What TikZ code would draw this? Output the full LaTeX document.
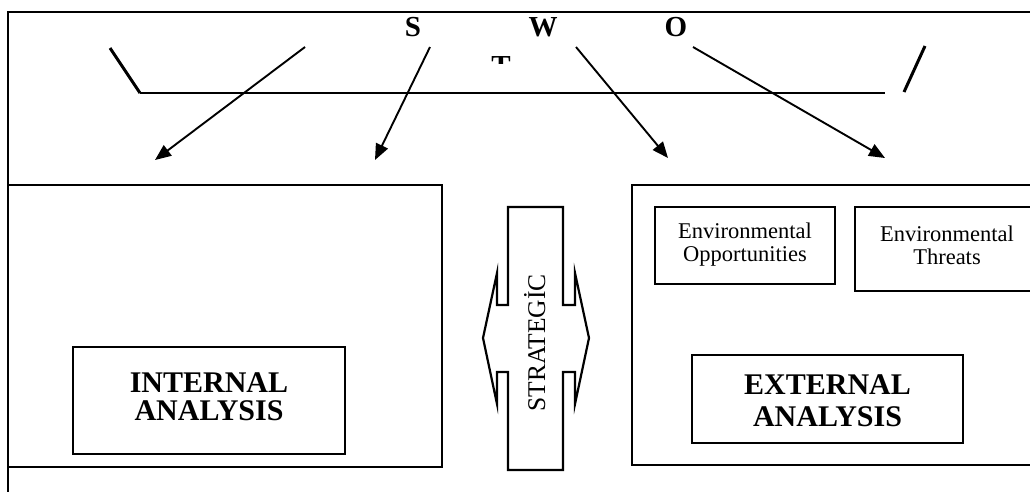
\documentclass[tikz,border=0pt]{standalone}
\usepackage{fontspec}
\setmainfont{Liberation Serif}
\usetikzlibrary{arrows.meta}
\begin{document}
\begin{tikzpicture}[x=1pt,y=-1pt,
  frameline/.style={line width=1.8pt},
  panel/.style={draw,line width=1.4pt,inner sep=0pt},
  box/.style={draw,line width=2.4pt,inner sep=0pt},
  arr/.style={line width=1.9pt,-{Triangle[length=16pt,width=13pt]}},
  stroke/.style={line width=3pt},
  lbl/.style={font=\fontsize{29}{29}\selectfont\bfseries,inner sep=0pt},
  big/.style={font=\fontsize{30}{28}\selectfont\bfseries,align=center,inner sep=0pt},
  env/.style={font=\fontsize{22.5}{23}\selectfont,align=center,inner sep=0pt},
]
\useasboundingbox (0,0) rectangle (1030,491);
\clip (0,0) rectangle (1030,491);
\fill[white] (0,0) rectangle (1030,491);
% outer frame
\draw[frameline] (1040,12) -- (8,12) -- (8,495);
% panels
\node[panel,minimum width=434pt,minimum height=282pt] (intpanel) at (225,326) {};
\node[panel,minimum width=408pt,minimum height=280pt] (extpanel) at (836,325) {};
% boxes
\node[box,minimum width=180pt,minimum height=77pt] (envO) at (745,245.5) {};
\node[env] (envOt) at (745,245) {Environmental\\Opportunities};
\node[box,minimum width=185pt,minimum height=84pt] (envT) at (947.5,249) {};
\node[env] (envTt) at (947,245) {Environmental\\Threats};
\node[box,minimum width=272pt,minimum height=107pt] (intA) at (209,400.5) {};
\node[big] (intAt) at (209,397) {INTERNAL\\ANALYSIS};
\node[box,minimum width=271pt,minimum height=88pt] (extA) at (827.5,399) {};
\node[big,font=\fontsize{30}{32}\selectfont\bfseries] (extAt) at (827.5,401) {EXTERNAL\\ANALYSIS};
% strategic double arrow
\draw[line width=2.2pt,line join=miter]
  (508,207) -- (508,305) -- (497,305) -- (497,273) -- (483,338) -- (497,404)
  -- (497,372) -- (508,372) -- (508,470) -- (563,470) -- (563,372) -- (575,372)
  -- (575,404) -- (589,338) -- (575,273) -- (575,305) -- (563,305) -- (563,207) -- cycle;
\node[font=\fontsize{25.5}{25.5}\selectfont,rotate=90,anchor=base,inner sep=0pt] (strat) at (545,343) {STRATEGİC};
% top strokes
\draw[stroke] (110,48) -- (140,93);
\draw[line width=2.2pt] (140,93) -- (885,93);
\draw[stroke] (925,46) -- (904,92);
% labels
\node[lbl] (S) at (413,27) {S};
\node[lbl] (W) at (543,27) {W};
\node[lbl] (O) at (676,27) {O};
\begin{scope}
\clip (480,50) rectangle (520,63);
\node[lbl,anchor=north] (T) at (501,56) {T};
\end{scope}
% arrows
\coordinate (a1s) at (305,47); \coordinate (a1e) at (155,160);
\coordinate (a2s) at (430,47); \coordinate (a2e) at (375,160);
\coordinate (a3s) at (576,47); \coordinate (a3e) at (668,158);
\coordinate (a4s) at (693,47); \coordinate (a4e) at (885,158);
\draw[arr] (a1s) -- (a1e);
\draw[arr] (a2s) -- (a2e);
\draw[arr] (a3s) -- (a3e);
\draw[arr] (a4s) -- (a4e);
\end{tikzpicture}
\end{document}
